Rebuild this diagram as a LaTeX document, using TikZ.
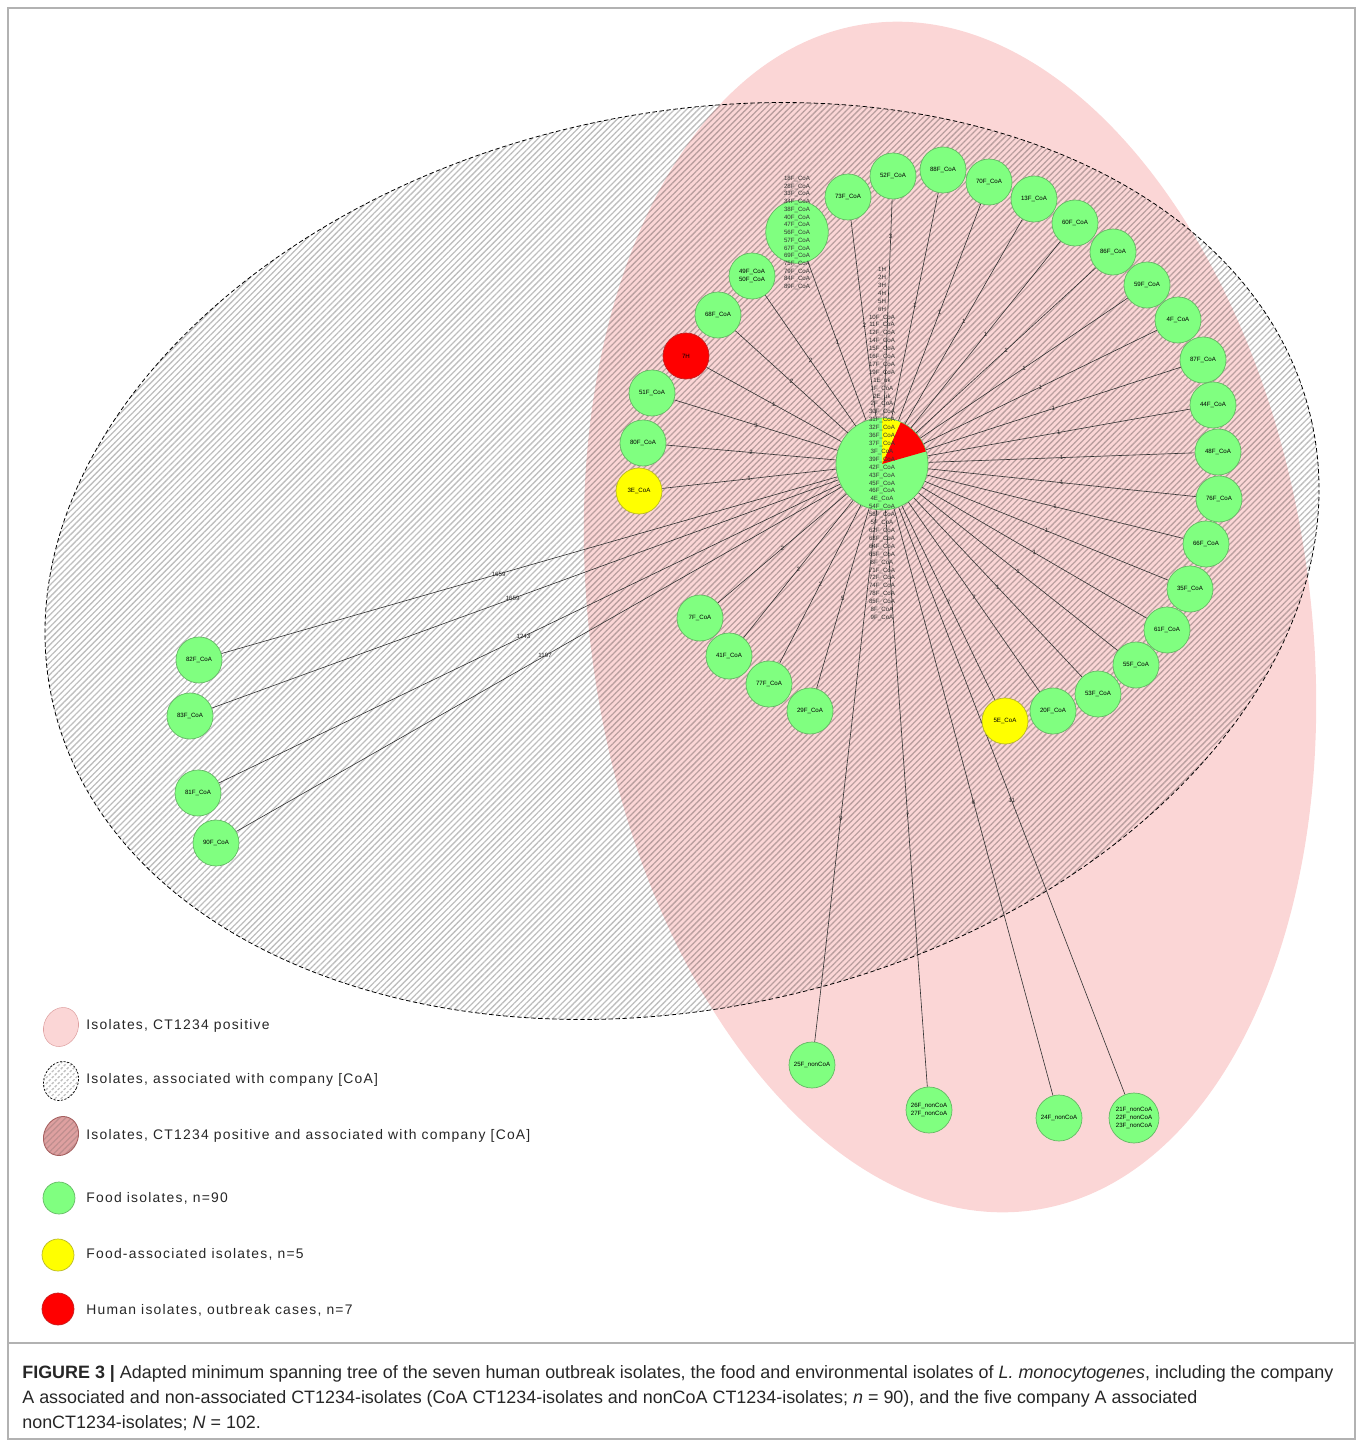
\documentclass[tikz,border=0pt]{standalone}
\usepackage{fontspec}
\setmainfont{Liberation Sans}
\newfontfamily\legendfont[LetterSpace=9]{Liberation Sans}
\usetikzlibrary{patterns.meta}

\definecolor{foodgreen}{RGB}{128,255,128}
\definecolor{foodrim}{RGB}{100,185,100}
\definecolor{assocyellow}{RGB}{255,255,0}
\definecolor{assocrim}{RGB}{185,185,40}
\definecolor{humanred}{RGB}{255,0,0}
\definecolor{humanrim}{RGB}{200,30,30}
\definecolor{ctpink}{RGB}{251,214,214}
\definecolor{ctdark}{RGB}{222,160,160}
\definecolor{ctrim}{RGB}{165,95,95}
\definecolor{stripe}{RGB}{192,192,192}

\pgfdeclarelayer{shade}
\pgfdeclarelayer{links}
\pgfsetlayers{shade,links,main}

\tikzstyle{isolate}=[circle,
    draw=foodrim,
    fill=foodgreen,
    line width=0.4pt,
    minimum size=0.92cm,
    inner sep=0pt,
    align=center,
    font=\fontsize{3.5}{4.4}\selectfont]
\tikzstyle{food}=[isolate]
\tikzstyle{assoc}=[isolate, draw=assocrim, fill=assocyellow]
\tikzstyle{human}=[isolate, draw=humanrim, fill=humanred]
\tikzstyle{link}=[draw=black!80, line width=0.35pt]
\tikzstyle{weight}=[font=\fontsize{3.5}{4}\selectfont, inner sep=0.4pt, text=black!85]
\tikzstyle{tag}=[inner sep=0pt, align=center, text=black!80]
\tikzstyle{hatch}=[pattern={Lines[angle=45,distance=2.4pt,line width=0.75pt]},
    pattern color=stripe]
\tikzstyle{keytext}=[anchor=west, inner sep=0pt,
    font=\legendfont\fontsize{7.9}{9}\selectfont, text=black!85]
\tikzstyle{caption}=[anchor=base west, inner sep=0pt,
    font=\fontsize{10.2}{12}\selectfont, text=black!85]

\begin{document}
\begin{tikzpicture}[x=0.02cm, y=-0.02cm]
    \useasboundingbox (0,0) rectangle (1362,1440);
    \draw[gray!60, line width=0.6pt] (8,8) rectangle (1355,1439);
    \draw[gray!60, line width=0.6pt] (8,1343) -- (1355,1343);

    \begin{pgfonlayer}{shade}
        \fill[ctpink, rotate around={8:(950,617)}]
            (950,617) ellipse [x radius=360, y radius=599];
        \begin{scope}[blend mode=multiply]
            \path[hatch, rotate around={12.6:(682,561)}]
                (682,561) ellipse [x radius=645, y radius=447];
        \end{scope}
        \draw[dashed, dash pattern=on 2.5pt off 1.5pt, line width=0.45pt,
            rotate around={12.6:(682,561)}]
            (682,561) ellipse [x radius=645, y radius=447];
    \end{pgfonlayer}

    \foreach \id/\x/\y/\txt in {c73F/848/197/73F, c52F/893/176/52F,
        c88F/943/170/88F, c70F/989/182/70F, c13F/1034/199/13F,
        c60F/1075/223/60F, c86F/1113/252/86F, c59F/1147/285/59F,
        c4F/1178/320/4F, c87F/1203/360/87F, c44F/1213/405/44F,
        c48F/1218/452/48F, c76F/1219/499/76F, c66F/1206/544/66F,
        c35F/1190/589/35F, c61F/1167/630/61F, c55F/1136/665/55F,
        c53F/1098/694/53F, c20F/1053/711/20F, c29F/810/711/29F,
        c77F/769/684/77F, c41F/729/656/41F, c7F/700/618/7F,
        c80F/643/443/80F, c51F/652/393/51F, c68F/718/315/68F,
        c82F/199/660/82F, c83F/190/716/83F, c81F/198/793/81F,
        c90F/216/843/90F}
        \node[food] (\id) at (\x,\y) {\txt\_CoA};
    \node[assoc] (c3E) at (639,491) {3E\_CoA};
    \node[assoc] (c5E) at (1005,721) {5E\_CoA};
    \node[human] (c7H) at (686,356) {7H};
    \node[food] (c49F) at (752,276) {49F\_CoA\\50F\_CoA};
    \node[food, minimum size=1.25cm] (c18F) at (797,232) {};
    \node[tag, font=\fontsize{3.5}{4.4}\selectfont] (c18Ftxt) at (797,233)
        {18F\_CoA\\28F\_CoA\\33F\_CoA\\34F\_CoA\\38F\_CoA\\40F\_CoA\\47F\_CoA\\56F\_CoA\\57F\_CoA\\67F\_CoA\\69F\_CoA\\75F\_CoA\\79F\_CoA\\84F\_CoA\\89F\_CoA};
    \node[food] (c25F) at (812,1065) {25F\_nonCoA};
    \node[food] (c26F) at (929,1110) {26F\_nonCoA\\27F\_nonCoA};
    \node[food] (c24F) at (1059,1118) {24F\_nonCoA};
    \node[food, minimum size=1cm] (c21F) at (1134,1118) {21F\_nonCoA\\22F\_nonCoA\\23F\_nonCoA};

    \node[food, minimum size=1.84cm] (hub) at (882,464) {};
    \fill[humanred] (882,464) -- plot[domain=16:66, samples=16]
        ({882+45.6*cos(\x)}, {464-45.6*sin(\x)}) -- cycle;
    \fill[assocyellow] (882,464) -- plot[domain=66:90, samples=8]
        ({882+45.6*cos(\x)}, {464-45.6*sin(\x)}) -- cycle;
    \node[tag, font=\fontsize{3.5}{4.5}\selectfont] (hubtxt) at (882,444)
        {1H\\2H\\3H\\4H\\5H\\6H\\10F\_CoA\\11F\_CoA\\12F\_CoA\\14F\_CoA\\15F\_CoA\\16F\_CoA\\17F\_CoA\\19F\_CoA\\1E\_uk\\1F\_CoA\\2E\_uk\\2F\_CoA\\30F\_CoA\\31F\_CoA\\32F\_CoA\\36F\_CoA\\37F\_CoA\\3F\_CoA\\39F\_CoA\\42F\_CoA\\43F\_CoA\\45F\_CoA\\46F\_CoA\\4E\_CoA\\54F\_CoA\\58F\_CoA\\5F\_CoA\\62F\_CoA\\63F\_CoA\\64F\_CoA\\65F\_CoA\\6F\_CoA\\71F\_CoA\\72F\_CoA\\74F\_CoA\\78F\_CoA\\85F\_CoA\\8F\_CoA\\9F\_CoA};

    \begin{pgfonlayer}{links}
        \foreach \to/\w/\p in {c73F/2/0.47, c52F/3/0.83, c88F/1/0.5,
            c70F/1/0.5, c13F/1/0.5, c60F/1/0.5, c86F/1/0.5, c59F/1/0.5,
            c4F/1/0.5, c87F/1/0.5, c44F/1/0.5, c48F/1/0.5, c76F/1/0.5,
            c66F/1/0.5, c35F/1/0.5, c61F/1/0.5, c55F/1/0.5, c53F/1/0.5,
            c20F/7/0.5, c5E/7/0.5, c29F/5/0.5, c77F/2/0.5, c41F/2/0.5,
            c7F/2/0.5, c3E/1/0.5, c80F/2/0.5, c51F/3/0.5, c7H/1/0.5,
            c68F/2/0.5, c49F/2/0.5, c18F/1/0.49, c82F/1659/0.55,
            c83F/1659/0.52, c81F/1243/0.51, c90F/1197/0.49, c25F/9/0.58,
            c26F/7/0.53, c24F/6/0.5, c21F/11/0.5}
            \draw[link] (hub) -- node[weight, pos=\p] {\w} (\to);
    \end{pgfonlayer}

    \fill[ctpink, draw=ctdark, line width=0.3pt, rotate around={-25:(61,1027)}]
        (61,1027) ellipse [x radius=17, y radius=20];
    \draw[hatch, dashed, dash pattern=on 1.2pt off 0.9pt,
        line width=0.4pt, rotate around={-25:(61,1081)}]
        (61,1081) ellipse [x radius=17, y radius=20];
    \fill[ctdark, rotate around={-25:(61,1136)}]
        (61,1136) ellipse [x radius=17, y radius=20];
    \draw[hatch, draw=ctrim, line width=0.5pt, pattern color=ctrim!70,
        rotate around={-25:(61,1136)}]
        (61,1136) ellipse [x radius=17, y radius=20];
    \node[food, minimum size=0.64cm] (keyfood) at (59,1198) {};
    \node[assoc, minimum size=0.64cm] (keyassoc) at (58,1255) {};
    \node[human, minimum size=0.64cm] (keyhuman) at (58,1309) {};

    \node[keytext] (keypink) at (86,1026) {Isolates, CT1234 positive};
    \node[keytext] (keycoa) at (86,1080) {Isolates, associated with company [CoA]};
    \node[keytext] (keyboth) at (86,1136) {Isolates, CT1234 positive and associated with company [CoA]};
    \node[keytext] (keyfoodtxt) at (86,1198) {Food isolates, n=90};
    \node[keytext] (keyassoctxt) at (86,1254) {Food-associated isolates, n=5};
    \node[keytext] (keyhumantxt) at (86,1310) {Human isolates, outbreak cases, n=7};

    \node[caption] (cap1) at (22,1378) {\textbf{FIGURE 3 |} Adapted minimum spanning tree of the seven human outbreak isolates, the food and environmental isolates of \textit{L. monocytogenes}, including the company};
    \node[caption] (cap2) at (22,1403) {A associated and non-associated CT1234-isolates (CoA CT1234-isolates and nonCoA CT1234-isolates; \textit{n} = 90), and the five company A associated};
    \node[caption] (cap3) at (22,1428) {nonCT1234-isolates; \textit{N} = 102.};
\end{tikzpicture}
\end{document}
